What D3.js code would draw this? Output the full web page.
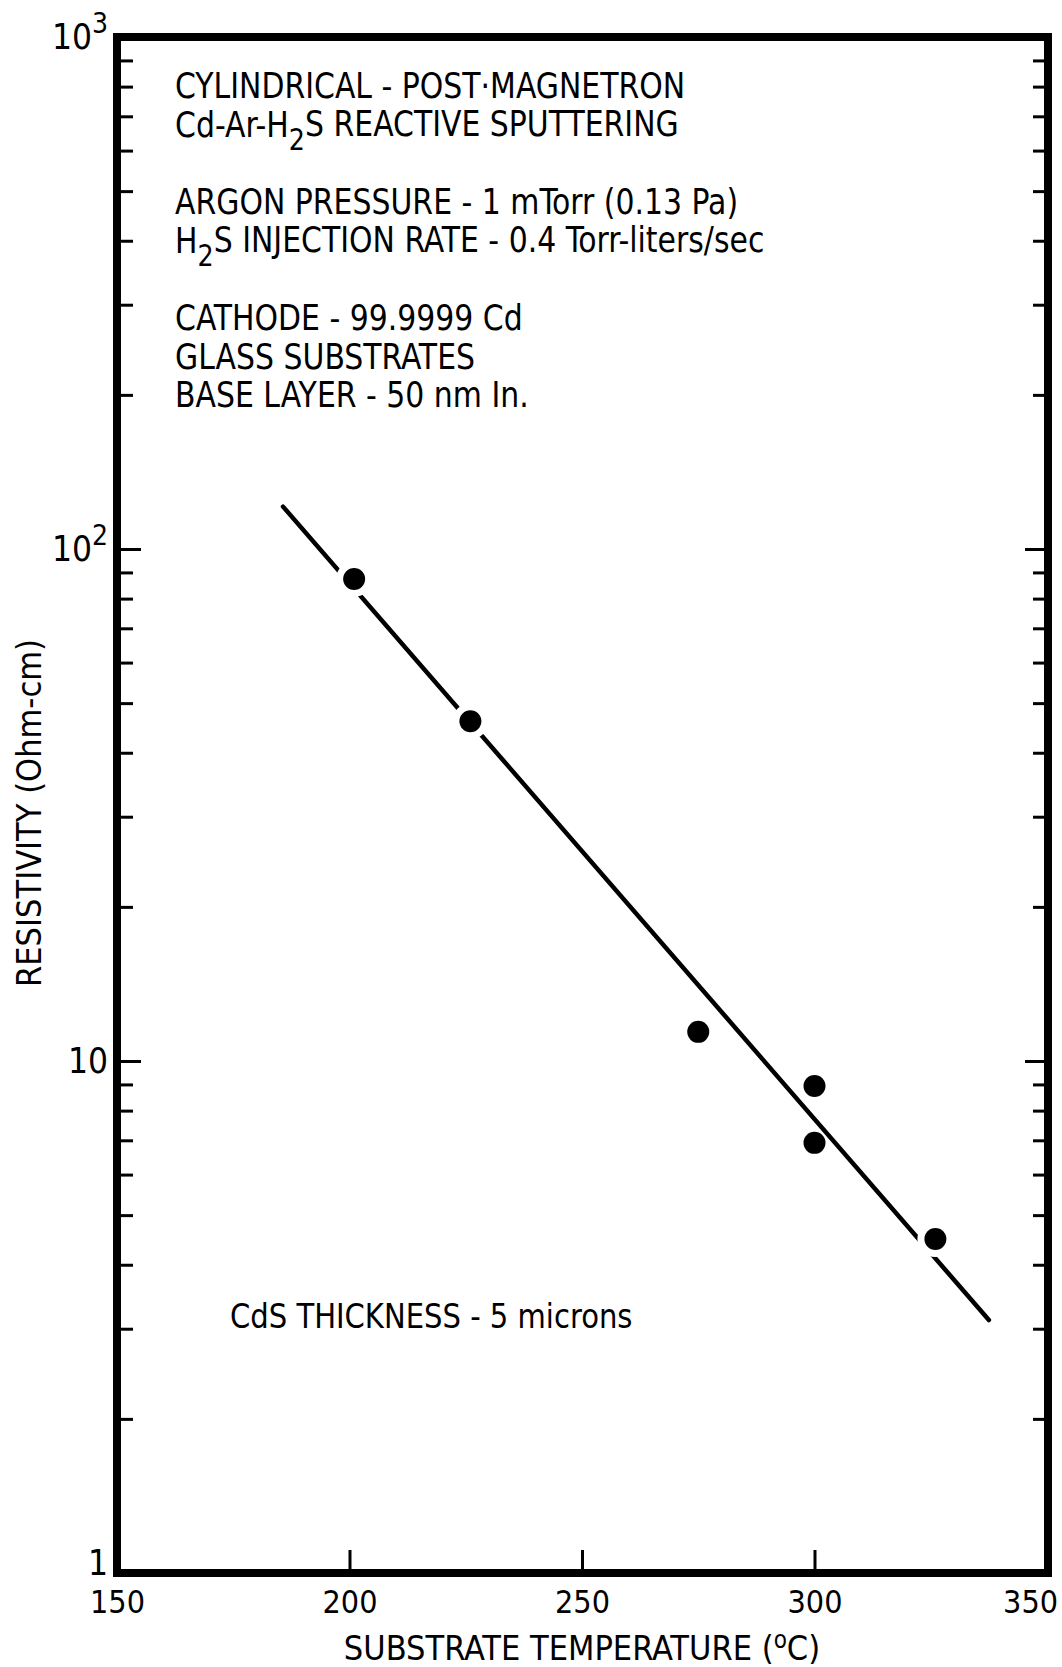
<!DOCTYPE html>
<html>
<head>
<meta charset="utf-8">
<script src="https://cdn.jsdelivr.net/npm/d3@7"></script>
<style>
  body { margin: 0; background: #fff; }
  svg { display: block; }
  text { font-family: "Liberation Sans Narrow", "DejaVu Sans Condensed", "DejaVu Sans", sans-serif; font-stretch: condensed; fill: #000; }
  .tick line { stroke: #000; }
</style>
</head>
<body>
<script>
// data
const temps = [201, 226, 275, 300, 300, 326]            // substrate temperature, C
const resist = [87.4, 46.1, 11.4, 8.94, 6.92, 4.49]     // resistivity, Ohm-cm
const brokenLine = [true, true, false, false, false, true] // fit line is interrupted at these dots
const fitT = [185.7, 337.5]
const fitR = [121, 3.12]
const xTicks = [150, 200, 250, 300, 350]
const yMajor = [1, 10, 100, 1000]
const yMinor = [2, 3, 4, 5, 6, 7, 8, 9, 20, 30, 40, 50, 60, 70, 80, 90, 200, 300, 400, 500, 600, 700, 800, 900]
const notes = [
  ['CYLINDRICAL - POST\u00B7MAGNETRON', 'Cd-Ar-H_2S REACTIVE SPUTTERING'],
  ['ARGON PRESSURE - 1 mTorr (0.13 Pa)', 'H_2S INJECTION RATE - 0.4 Torr-liters/sec'],
  ['CATHODE - 99.9999 Cd', 'GLASS SUBSTRATES', 'BASE LAYER - 50 nm In.']
]
const thicknessNote = 'CdS THICKNESS - 5 microns'
const xTitle = ['SUBSTRATE TEMPERATURE (', 'o', 'C)']
const yTitle = 'RESISTIVITY (Ohm-cm)'

const W = 1062, H = 1667
const L = 117, R = 1048, T = 37, B = 1573
const squeeze = 0.95   // the scanned lettering is narrower than the installed fonts

const svg = d3.select('body').append('svg').attr('width', W).attr('height', H)
svg.append('rect').attr('width', W).attr('height', H).attr('fill', '#fff')

const x = d3.scaleLinear().domain([150, 350]).range([L, R - 1])
const y = d3.scaleLog().domain([1, 1000]).range([B, T])

// minor ticks, left and right
svg.append('g').attr('transform', `translate(${L},0)`)
  .call(d3.axisLeft(y).tickValues(yMinor).tickSize(-16).tickFormat(''))
svg.append('g').attr('transform', `translate(${R},0)`)
  .call(d3.axisRight(y).tickValues(yMinor).tickSize(-15).tickFormat(''))
// major ticks with labels
const $yAxis = svg.append('g').attr('transform', `translate(${L},0)`)
  .call(d3.axisLeft(y).tickValues(yMajor).tickSize(-24).tickPadding(9).tickFormat(d => d))
svg.append('g').attr('transform', `translate(${R},0)`)
  .call(d3.axisRight(y).tickValues(yMajor).tickSize(-23).tickFormat(''))
const $xAxis = svg.append('g').attr('transform', `translate(0,${B})`)
  .call(d3.axisBottom(x).tickValues(xTicks).tickSize(-23).tickPadding(17).tickFormat(d => d))

svg.selectAll('.domain').remove()
svg.selectAll('.tick line').attr('stroke-width', 3)

$yAxis.selectAll('text')
  .attr('font-size', 35)
  .attr('dy', d => d == 1 ? '0.05em' : '0.32em')
  .each(function(d){
    const e = Math.round(Math.log10(d))
    if(e < 2) return
    const t = d3.select(this).text('10')
    t.append('tspan').attr('font-size', 28).attr('dy', '-0.55em').text(e)
  })
$xAxis.selectAll('text').attr('font-size', 32)
  .each(function(){
    const w = this.getComputedTextLength()
    const cx = +d3.select(this.parentNode).attr('transform').match(/translate\(([-\d.]+)/)[1]
    if(cx + w/2 > W - 4) d3.select(this).attr('x', W - 4 - w/2 - cx)
  })

// frame
svg.append('rect')
  .attr('x', L).attr('y', T).attr('width', R - L).attr('height', B - T)
  .attr('fill', 'none').attr('stroke', '#000').attr('stroke-width', 8)

// fit line, interrupted around some dots
svg.append('line')
  .attr('x1', x(fitT[0])).attr('y1', y(fitR[0]))
  .attr('x2', x(fitT[1])).attr('y2', y(fitR[1]))
  .attr('stroke', '#000').attr('stroke-width', 4.5).attr('stroke-linecap', 'round')

const pts = temps.map((t, i) => ({t, r: resist[i], gap: brokenLine[i]}))
svg.append('g').selectAll('circle')
  .data(pts.filter(p => p.gap))
  .enter().append('circle')
    .attr('cx', p => x(p.t)).attr('cy', p => y(p.r)).attr('r', 18)
    .attr('fill', '#fff')
svg.append('g').selectAll('circle')
  .data(pts)
  .enter().append('circle')
    .attr('cx', p => x(p.t)).attr('cy', p => y(p.r)).attr('r', 11)
    .attr('fill', '#000')

// notes
function richText(sel, s){
  s.split(/_(\d)/).forEach((part, i) => {
    if(i % 2) sel.append('tspan').attr('font-size', '0.85em').attr('dy', '0.45em').text(part)
    else sel.append('tspan').attr('dy', i ? '-0.383em' : null).text(part)
  })
}
const $notes = svg.append('g')
notes.forEach((group, gi) => {
  group.forEach((line, li) => {
    const k = notes.slice(0, gi).reduce((n, g) => n + g.length, 0) + li
    $notes.append('text')
      .attr('transform', `translate(175,${98 + k * 38.5 + gi * 39}) scale(${squeeze},1)`)
      .attr('font-size', 35)
      .call(richText, line)
  })
})
svg.append('text')
  .attr('transform', `translate(230,1328) scale(${squeeze},1)`)
  .attr('font-size', 34)
  .text(thicknessNote)

// axis titles
const $xt = svg.append('text')
  .attr('x', x(250)).attr('y', 1660).attr('text-anchor', 'middle').attr('font-size', 34)
$xt.append('tspan').text(xTitle[0])
$xt.append('tspan').attr('font-size', 24).attr('dy', -12).text(xTitle[1])
$xt.append('tspan').attr('dy', 12).text(xTitle[2])

svg.append('text')
  .attr('transform', `translate(41,${813}) rotate(-90)`)
  .attr('text-anchor', 'middle').attr('font-size', 34)
  .text(yTitle)
</script>
</body>
</html>
